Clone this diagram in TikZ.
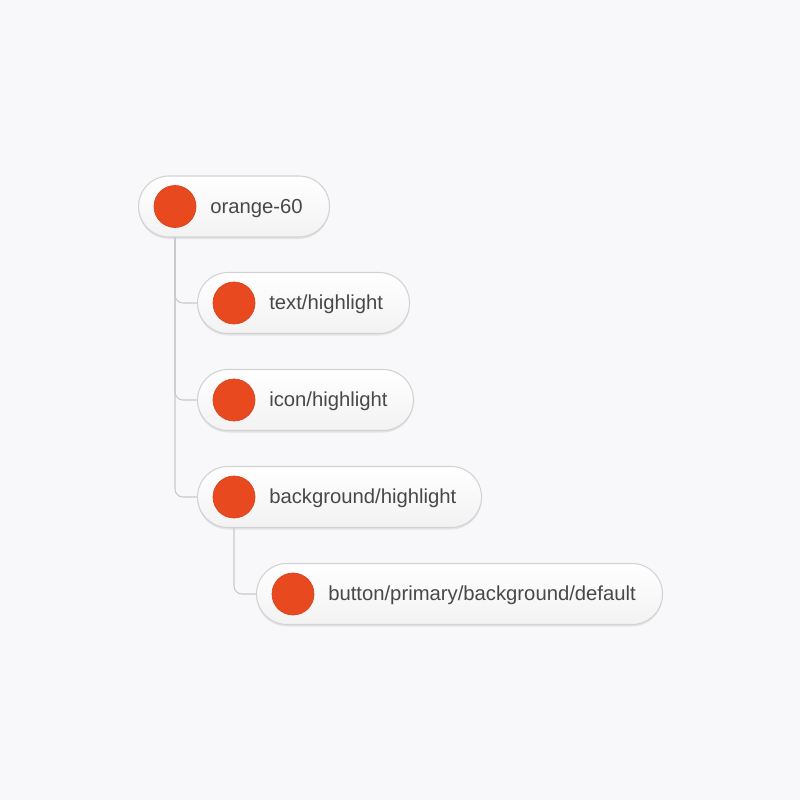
\documentclass[tikz,border=0pt]{standalone}
\usepackage{fontspec}
\setmainfont{Liberation Sans}
\usetikzlibrary{shadows}
\definecolor{canvas}{HTML}{F8F8FA}
\definecolor{pillline}{HTML}{D2D2D4}
\definecolor{linkgray}{HTML}{C9C9CC}
\definecolor{swatch}{HTML}{E8491F}
\definecolor{swatchline}{HTML}{D8421A}
\definecolor{labelgray}{HTML}{484848}
\tikzset{
  pill/.style={draw=pillline, line width=0.8pt, rounded corners=22.875pt, minimum height=45.75pt,
    inner sep=0pt, anchor=west, top color=white, bottom color=black!5,
    drop shadow={shadow xshift=0pt, shadow yshift=-1.5pt, opacity=0.08, fill=black}},
  swatchdot/.style={circle, fill=swatch, draw=swatchline, line width=0.5pt, minimum size=31.5pt, inner sep=0pt},
  tag/.style={anchor=base west, inner sep=0pt, text=labelgray, font=\fontsize{15.2pt}{18pt}\selectfont},
  link/.style={draw=linkgray, line width=0.8pt, rounded corners=6pt}
}
\begin{document}
\begin{tikzpicture}[x=0.75pt, y=-0.75pt]
\fill[canvas] (0,0) rectangle (800,800);
\foreach \name/\x/\y/\w/\txt in {orange/138/206.5/191/{orange-60}, texthl/197/303/212/{text/highlight},
  iconhl/197/400/216/{icon/highlight}, bghl/197/497/284/{background/highlight},
  buttonbg/256/594/406/{button/primary/background/default}} {
  \node[pill, minimum width=0.75pt*\w] (\name) at (\x,\y) {};
  \node[swatchdot] (\name dot) at ([xshift=27.75pt]\name.west) {};
  \node[tag] (\name txt) at ([xshift=54pt, yshift=-4.9pt]\name.west) {\txt};
}
\draw[link] (orangedot.center |- orange.south) |- (texthl.west);
\draw[link] (orangedot.center |- orange.south) |- (iconhl.west);
\draw[link] (orangedot.center |- orange.south) |- (bghl.west);
\draw[link] (bghldot.center |- bghl.south) |- (buttonbg.west);
\end{tikzpicture}
\end{document}
